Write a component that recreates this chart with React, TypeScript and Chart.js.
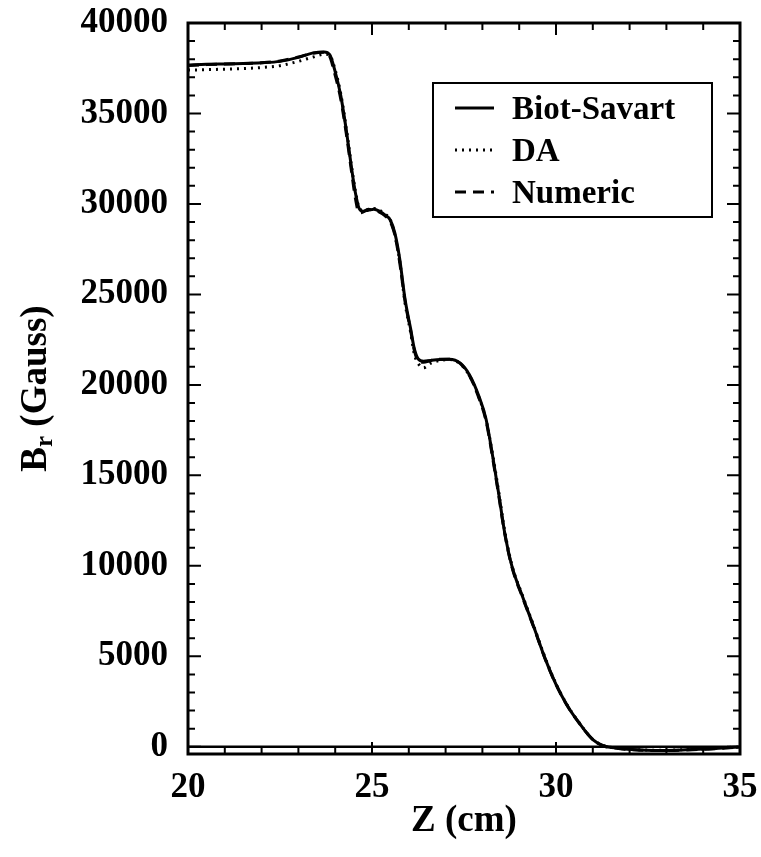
import React, { useEffect, useRef } from 'react';
import { Chart, registerables } from 'chart.js';

Chart.register(...registerables);

// ---- data ----
const zValues = [
  20, 20.5, 21, 21.5, 22, 22.5, 23, 23.4, 23.7, 23.85, 24.0, 24.15, 24.3, 24.45, 24.55, 24.65,
  24.75, 24.9, 25.05, 25.2, 25.35, 25.5, 25.62, 25.75, 25.9, 26.05, 26.15, 26.25, 26.4, 26.6,
  26.85, 27.1, 27.4, 27.65, 27.9, 28.1, 28.3, 28.45, 28.6, 28.8, 29.1, 29.4, 29.7, 30.0, 30.3,
  30.6, 31.0, 31.3, 31.7, 32.2, 32.7, 33.2, 33.7, 34.2, 34.6, 35,
];

const biotSavart = [
  37680, 37720, 37740, 37760, 37800, 37880, 38100, 38350, 38400, 38250, 37300, 36000, 34100, 31900, 30600, 29750,
  29600, 29650, 29700, 29600, 29400, 29100, 28400, 27000, 24700, 23100, 22000, 21450, 21300, 21350,
  21400, 21420, 21200, 20550, 19400, 18100, 15800, 13900, 11900, 10000, 8250, 6600, 4900, 3450, 2300,
  1400, 400, 50, -80, -170, -200, -190, -150, -110, -60, -20,
];

const daValues = [
  37400, 37420, 37450, 37480, 37540, 37640, 37880, 38120, 38280, 38220, 37400, 36100, 34200, 32000, 30700, 29800,
  29650, 29700, 29750, 29650, 29450, 29100, 28300, 26900, 24500, 22900, 21700, 21200, 20950, 21200,
  21350, 21400, 21150, 20500, 19350, 18050, 15900, 14000, 12000, 10050, 8300, 6650, 4950, 3480, 2320,
  1410, 410, 60, -70, -160, -190, -180, -140, -100, -50, -10,
];

const numericValues = [
  37650, 37700, 37730, 37760, 37800, 37900, 38120, 38330, 38380, 38150, 37100, 35800, 33900, 31700, 30300, 29500,
  29550, 29700, 29650, 29550, 29350, 29000, 28300, 26800, 24600, 23000, 21900, 21350, 21250, 21350,
  21420, 21420, 21180, 20500, 19300, 18000, 15700, 13800, 11850, 9950, 8200, 6580, 4880, 3440, 2290,
  1390, 400, 40, -90, -180, -210, -200, -160, -120, -70, -30,
];

const seriesLabels = ['Biot-Savart', 'DA', 'Numeric'];

const xLabelValues = [20, 25, 30, 35];
const xMinorStep = 1;
const yLabelValues = [0, 5000, 10000, 15000, 20000, 25000, 30000, 35000, 40000];
const yMinorStep = 1000;

const xMin = 20;
const xMax = 35;
const yMin = -400;
const yMax = 40000;

const xTitle = 'Z (cm)';
const yTitleMain = 'B';
const yTitleSub = 'r';
const yTitleRest = ' (Gauss)';

const FONT_FAMILY = '"Liberation Serif", "Times New Roman", serif';

function tickList(lo: number, hi: number, step: number) {
  const out: number[] = [];
  for (let v = lo; v <= hi + 1e-9; v += step) out.push(Math.round(v * 1000) / 1000);
  return out;
}

const decorPlugin = {
  id: 'decor',
  afterDatasetsDraw(chart: any) {
    const { ctx, chartArea: a, scales } = chart;
    const x = scales.x;
    const y = scales.y;
    ctx.save();
    ctx.strokeStyle = '#000';
    ctx.fillStyle = '#000';
    ctx.setLineDash([]);

    // zero line
    ctx.lineWidth = 2.5;
    const y0 = y.getPixelForValue(0);
    ctx.beginPath();
    ctx.moveTo(a.left, y0);
    ctx.lineTo(a.right, y0);
    ctx.stroke();

    // inward ticks
    ctx.lineWidth = 2;
    for (const v of tickList(xMin, xMax, xMinorStep)) {
      const px = x.getPixelForValue(v);
      const major = xLabelValues.includes(v);
      const len = major ? 12 : 7;
      ctx.beginPath();
      ctx.moveTo(px, a.bottom);
      ctx.lineTo(px, a.bottom - len);
      ctx.moveTo(px, a.top);
      ctx.lineTo(px, a.top + len);
      ctx.stroke();
    }
    for (const v of tickList(0, yMax, yMinorStep)) {
      const py = y.getPixelForValue(v);
      const major = yLabelValues.includes(v);
      const len = major ? 13 : 7;
      ctx.beginPath();
      ctx.moveTo(a.left, py);
      ctx.lineTo(a.left + len, py);
      ctx.moveTo(a.right, py);
      ctx.lineTo(a.right - len, py);
      ctx.stroke();
    }

    // frame
    ctx.lineWidth = 3;
    ctx.strokeRect(a.left, a.top, a.right - a.left, a.bottom - a.top);

    // legend
    const lx = 433, ly = 83, lw = 279, lh = 134;
    ctx.fillStyle = '#fff';
    ctx.fillRect(lx, ly, lw, lh);
    ctx.lineWidth = 2;
    ctx.strokeStyle = '#000';
    ctx.strokeRect(lx, ly, lw, lh);
    ctx.font = `bold 33px ${FONT_FAMILY}`;
    ctx.textBaseline = 'middle';
    ctx.textAlign = 'left';
    ctx.fillStyle = '#000';
    chart.data.datasets.forEach((ds: any, i: number) => {
      const ry = ly + 25 + i * 42;
      ctx.save();
      ctx.lineWidth = ds.borderWidth;
      ctx.setLineDash(ds.borderDash || []);
      ctx.lineCap = 'butt';
      ctx.beginPath();
      ctx.moveTo(lx + 22, ry);
      ctx.lineTo(lx + 61, ry);
      ctx.stroke();
      ctx.restore();
      ctx.fillText(ds.label, lx + 79, ry + 2);
    });

    // y axis title with subscript
    ctx.save();
    ctx.translate(36, (a.top + a.bottom) / 2);
    ctx.rotate(-Math.PI / 2);
    ctx.textBaseline = 'middle';
    const mainFont = `bold 37px ${FONT_FAMILY}`;
    const subFont = `bold 25px ${FONT_FAMILY}`;
    ctx.font = mainFont;
    const wB = ctx.measureText(yTitleMain).width;
    const wRest = ctx.measureText(yTitleRest).width;
    ctx.font = subFont;
    const wSub = ctx.measureText(yTitleSub).width;
    const total = wB + wSub + wRest;
    let sx = -total / 2;
    ctx.font = mainFont;
    ctx.fillText(yTitleMain, sx, 0);
    sx += wB;
    ctx.font = subFont;
    ctx.fillText(yTitleSub, sx, 10);
    sx += wSub;
    ctx.font = mainFont;
    ctx.fillText(yTitleRest, sx, 0);
    ctx.restore();

    ctx.restore();
  },
};

export default function App() {
  const canvasRef = useRef<HTMLCanvasElement | null>(null);

  useEffect(() => {
    const canvas = canvasRef.current;
    if (!canvas) return;
    const toPoints = (vals: number[]) => zValues.map((z, i) => ({ x: z, y: vals[i] }));
    const tickFont = { family: FONT_FAMILY, size: 35, weight: 'bold' as const };
    const titleFont = { family: FONT_FAMILY, size: 37, weight: 'bold' as const };

    const chart = new Chart(canvas, {
      type: 'line',
      data: {
        datasets: [
          {
            label: seriesLabels[0],
            data: toPoints(biotSavart),
            borderColor: '#000',
            borderWidth: 3,
            pointRadius: 0,
            cubicInterpolationMode: 'monotone',
            fill: false,
          },
          {
            label: seriesLabels[1],
            data: toPoints(daValues),
            borderColor: '#000',
            borderWidth: 3,
            borderDash: [2, 5],
            pointRadius: 0,
            cubicInterpolationMode: 'monotone',
            fill: false,
          },
          {
            label: seriesLabels[2],
            data: toPoints(numericValues),
            borderColor: '#000',
            borderWidth: 3,
            borderDash: [11, 7],
            pointRadius: 0,
            cubicInterpolationMode: 'monotone',
            fill: false,
          },
        ],
      },
      options: {
        animation: false,
        responsive: false,
        devicePixelRatio: 1,
        layout: { padding: { left: 0, right: 21, top: 23, bottom: 0 } },
        plugins: {
          legend: { display: false },
          tooltip: { enabled: false },
          title: { display: false },
        },
        scales: {
          x: {
            type: 'linear',
            min: xMin,
            max: xMax,
            grid: { display: false, drawTicks: false },
            border: { display: false },
            afterBuildTicks: (scale: any) => {
              scale.ticks = tickList(xMin, xMax, xMinorStep).map((v) => ({ value: v }));
            },
            afterFit: (scale: any) => {
              scale.height = 103;
              scale.paddingLeft = 0;
              scale.paddingRight = 0;
              scale.paddingTop = 0;
              scale.paddingBottom = 0;
            },
            ticks: {
              autoSkip: false,
              maxRotation: 0,
              minRotation: 0,
              padding: 13,
              color: '#000',
              font: tickFont,
              callback: (v: any) => (xLabelValues.includes(Number(v)) ? String(v) : ''),
            },
            title: {
              display: true,
              text: xTitle,
              color: '#000',
              font: titleFont,
              padding: { top: 0, bottom: 13 },
            },
          },
          y: {
            type: 'linear',
            min: yMin,
            max: yMax,
            grid: { display: false, drawTicks: false },
            border: { display: false },
            afterBuildTicks: (scale: any) => {
              scale.ticks = tickList(0, yMax, yMinorStep).map((v) => ({ value: v }));
            },
            afterFit: (scale: any) => {
              scale.width = 188;
              scale.paddingLeft = 0;
              scale.paddingRight = 0;
              scale.paddingTop = 0;
              scale.paddingBottom = 0;
            },
            ticks: {
              autoSkip: false,
              padding: 20,
              color: '#000',
              font: tickFont,
              callback: (v: any) => (yLabelValues.includes(Number(v)) ? String(v) : ''),
            },
          },
        },
      },
      plugins: [decorPlugin],
    } as any);

    return () => {
      chart.destroy();
    };
  }, []);

  return (
    <div style={{ position: 'fixed', left: 0, top: 0, width: 761, height: 857, background: '#fff' }}>
      <canvas ref={canvasRef} width={761} height={857} style={{ display: 'block', width: 761, height: 857 }} />
    </div>
  );
}
